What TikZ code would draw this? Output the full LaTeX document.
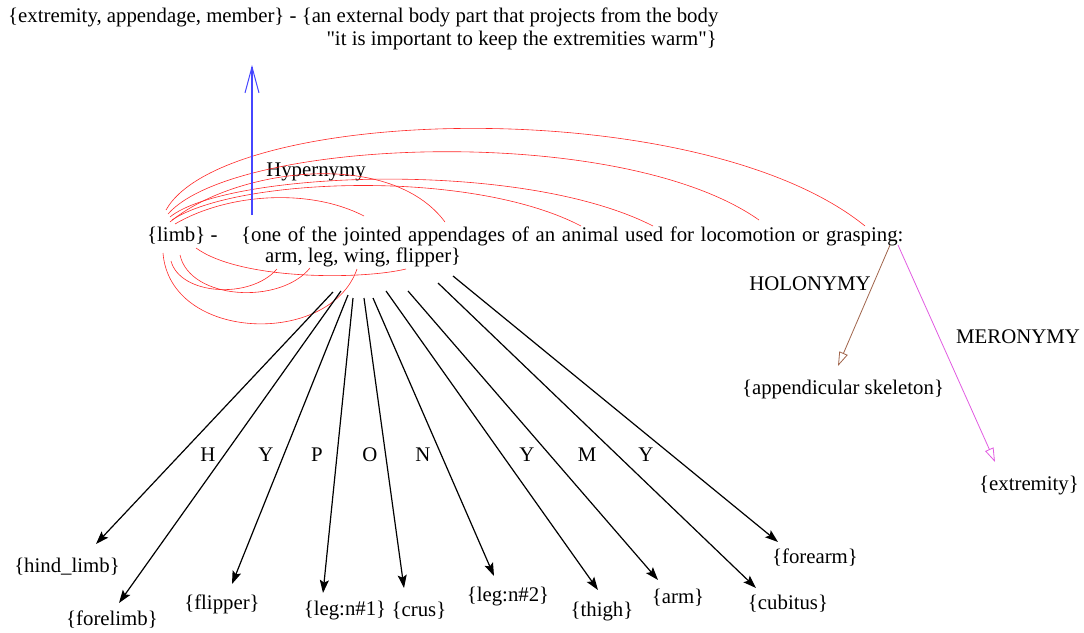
\documentclass[tikz,border=0pt]{standalone}
\usepackage{fontspec}
\setmainfont{Liberation Serif}
\usetikzlibrary{arrows.meta}
\definecolor{hypblue}{RGB}{70,70,255}
\definecolor{holbrown}{RGB}{160,100,75}
\definecolor{mermag}{RGB}{225,90,225}
\definecolor{arcred}{RGB}{255,40,40}
\begin{document}
\begin{tikzpicture}[x=1pt,y=-1pt,
  lbl/.style={inner sep=0pt, font=\fontsize{20.8}{24}\selectfont},
  hypo/.style={draw=black, line width=1.2pt, -{Stealth[length=13pt,width=9pt,inset=2.5pt]}},
  arcline/.style={draw=arcred, line width=0.6pt},
  hyperarrow/.style={draw=hypblue, line width=1.8pt, -{Straight Barb[length=26pt,width=14pt,line width=1pt]}},
  holoarrow/.style={draw=holbrown, line width=0.8pt, -{Triangle[open,length=14pt,width=9pt]}},
  meroarrow/.style={draw=mermag, line width=0.8pt, -{Triangle[open,length=14pt,width=9pt]}}
]
\useasboundingbox (0,0) rectangle (1084,632);

% top synset
\node[lbl, anchor=west] (top1) at (8,17) {\{extremity, appendage, member\} - \{an external body part that projects from the body};
\node[lbl, anchor=east] (top2) at (717,40) {\textquotedbl it is important to keep the extremities warm\textquotedbl\}};

% central synset
\node[lbl, anchor=west] (limb) at (147,236) {\{limb\} -};
\node[lbl, anchor=west] (gloss) at (241,236) {\spaceskip=6.6pt\{one of the jointed appendages of an animal used for locomotion or grasping:};
\node[lbl, anchor=west] (gloss2) at (265,257) {arm, leg, wing, flipper\}};

% relation labels
\node[lbl] (hyperlbl) at (316,172) {Hypernymy};
\node[lbl] (hololbl) at (810,284) {HOLONYMY};
\node[lbl] (merolbl) at (1018,337) {MERONYMY};
\node[lbl] (appskel) at (843,389) {\{appendicular skeleton\}};
\node[lbl] (extrem) at (1029,486) {\{extremity\}};

% hyponym labels
\node[lbl] (hind) at (67,567) {\{hind\_limb\}};
\node[lbl] (fore) at (112,620) {\{forelimb\}};
\node[lbl] (flip) at (222,604) {\{flipper\}};
\node[lbl] (legone) at (345,611) {\{leg:n\#1\}};
\node[lbl] (crus) at (419,611) {\{crus\}};
\node[lbl] (legtwo) at (508,597) {\{leg:n\#2\}};
\node[lbl] (thigh) at (602,612) {\{thigh\}};
\node[lbl] (arm) at (678,598) {\{arm\}};
\node[lbl] (cubitus) at (788,604) {\{cubitus\}};
\node[lbl] (forearm) at (815,558) {\{forearm\}};

% HYPONYMY letters
\node[lbl] (h1) at (208,455) {H};
\node[lbl] (h2) at (266,455) {Y};
\node[lbl] (h3) at (317,455) {P};
\node[lbl] (h4) at (370,455) {O};
\node[lbl] (h5) at (423,455) {N};
\node[lbl] (h6) at (527,455) {Y};
\node[lbl] (h7) at (587,455) {M};
\node[lbl] (h8) at (646,455) {Y};

% connector end points
\coordinate (bs) at (252,215);
\coordinate (bt) at (252,65);
\coordinate (hs) at (890,245);
\coordinate (ht) at (838,366);
\coordinate (ms) at (898,245);
\coordinate (mt) at (995,462);

\coordinate (s1) at (333,292);  \coordinate (t1) at (96,544);
\coordinate (s2) at (341,291);  \coordinate (t2) at (119,603);
\coordinate (s3) at (348,295);  \coordinate (t3) at (232,584);
\coordinate (s4) at (353,298);  \coordinate (t4) at (323,593);
\coordinate (s5) at (364,298);  \coordinate (t5) at (404,588);
\coordinate (s6) at (373,298);  \coordinate (t6) at (494,576);
\coordinate (s7) at (386,291);  \coordinate (t7) at (598,590);
\coordinate (s8) at (408,291);  \coordinate (t8) at (658,580);
\coordinate (s9) at (438,283);  \coordinate (t9) at (756,588);
\coordinate (s10) at (453,276); \coordinate (t10) at (778,542);

% red arcs: starts and ends
\coordinate (ua1) at (166,210); \coordinate (ub1) at (865,226);
\coordinate (ua2) at (168,214); \coordinate (ub2) at (759,220);
\coordinate (ua3) at (170,217); \coordinate (ub3) at (653,226);
\coordinate (ua4) at (172,220); \coordinate (ub4) at (581,226);
\coordinate (ua5) at (170,222); \coordinate (ub5) at (445,222);
\coordinate (ua6) at (175,224); \coordinate (ub6) at (364,216);
\coordinate (la1) at (196,248); \coordinate (lb1) at (406,269);
\coordinate (la2) at (180,255); \coordinate (lb2) at (310,268);
\coordinate (la3) at (171,261); \coordinate (lb3) at (277,269);
\coordinate (la4) at (163,253); \coordinate (lb4) at (357,269);

\draw[arcline] (ua1) .. controls (225,105) and (700,92) .. (ub1);
\draw[arcline] (ua2) .. controls (235,138) and (620,122) .. (ub2);
\draw[arcline] (ua3) .. controls (225,172) and (520,158) .. (ub3);
\draw[arcline] (ua4) .. controls (235,178) and (470,168) .. (ub4);
\draw[arcline] (ua5) .. controls (235,168) and (390,148) .. (ub5);
\draw[arcline] (ua6) .. controls (228,193) and (310,188) .. (ub6);
\draw[arcline] (la1) .. controls (240,280) and (360,280) .. (lb1);
\draw[arcline] (la2) .. controls (190,300) and (280,305) .. (lb2);
\draw[arcline] (la3) .. controls (180,295) and (250,300) .. (lb3);
\draw[arcline] (la4) .. controls (170,342) and (330,347) .. (lb4);

% relation arrows
\draw[hyperarrow] (bs) -- (bt);
\draw[holoarrow] (hs) -- (ht);
\draw[meroarrow] (ms) -- (mt);

\foreach \i in {1,...,10} {
  \draw[hypo] (s\i) -- (t\i);
}
\end{tikzpicture}
\end{document}
